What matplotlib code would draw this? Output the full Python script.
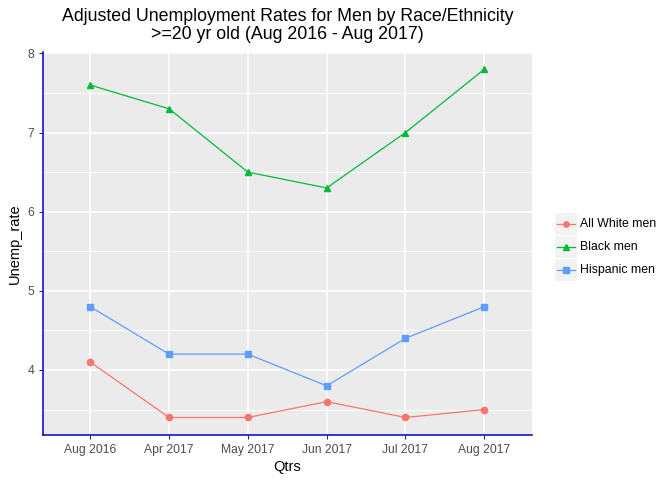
import numpy as np
import matplotlib
matplotlib.use('Agg')
import matplotlib.pyplot as plt
from matplotlib.lines import Line2D
from matplotlib.patches import Rectangle

plt.rcParams['font.family'] = ['Liberation Sans', 'DejaVu Sans']

qtrs = ['Aug 2016', 'Apr 2017', 'May 2017', 'Jun 2017', 'Jul 2017', 'Aug 2017']
white_men = [4.1, 3.4, 3.4, 3.6, 3.4, 3.5]
black_men = [7.6, 7.3, 6.5, 6.3, 7.0, 7.8]
hispanic_men = [4.8, 4.2, 4.2, 3.8, 4.4, 4.8]

series = [
    ('All White men', white_men, '#F8766D', 'o'),
    ('Black men', black_men, '#00BA38', '^'),
    ('Hispanic men', hispanic_men, '#619CFF', 's'),
]

fig = plt.figure(figsize=(6.72, 4.8), dpi=100)
ax = fig.add_axes([0.064, 0.094, 0.727, 0.798])
ax.set_facecolor('#EBEBEB')

x = np.arange(len(qtrs))
for name, vals, col, mk in series:
    ax.plot(x, vals, color=col, lw=0.9, marker=mk, ms=4.5, mec=col, mfc=col, zorder=3)

allv = white_men + black_men + hispanic_men
lo, hi = min(allv), max(allv)
pad = 0.05 * (hi - lo)
ax.set_ylim(lo - pad, hi + pad)
ax.set_xlim(-0.6, len(qtrs) - 1 + 0.6)

ax.set_xticks(x)
ax.set_xticklabels(qtrs)
ax.set_yticks([4, 5, 6, 7, 8])
ax.set_yticks([3.5, 4.5, 5.5, 6.5, 7.5], minor=True)
ax.grid(True, which='major', color='white', lw=1.1, zorder=0)
ax.grid(True, which='minor', axis='y', color='white', lw=0.55, zorder=0)
ax.set_axisbelow(True)

for s in ['top', 'right']:
    ax.spines[s].set_visible(False)
for s in ['left', 'bottom']:
    ax.spines[s].set_color('#0000CC')
    ax.spines[s].set_linewidth(1.1)

ax.tick_params(axis='both', which='major', colors='#333333', labelcolor='#4D4D4D',
               labelsize=8.7, length=3, width=0.8)
ax.tick_params(axis='y', which='minor', length=0)

ax.set_xlabel('Qtrs', fontsize=10.5, labelpad=3)
ax.set_ylabel('Unemp_rate', fontsize=10.5, labelpad=4)
ax.set_title('Adjusted Unemployment Rates for Men by Race/Ethnicity\n>=20 yr old (Aug 2016 - Aug 2017)',
             fontsize=12.8, linespacing=1.1, pad=9)

# legend in ggplot style
ys = [224, 247, 270]
for (name, vals, col, mk), yp in zip(series, ys):
    fy = 1 - yp / 480
    fig.patches.append(Rectangle((555 / 672, fy - 11 / 480), 22 / 672, 22 / 480,
                                 transform=fig.transFigure, facecolor='#F2F2F2',
                                 edgecolor='none'))
    fig.add_artist(Line2D([557 / 672, 575 / 672], [fy, fy], color=col, lw=0.9,
                          transform=fig.transFigure))
    fig.add_artist(Line2D([566 / 672], [fy], color=col, marker=mk, ms=3.8,
                          transform=fig.transFigure))
    fig.text(580 / 672, fy, name, fontsize=8.8, va='center', ha='left', color='black')

fig.savefig('out.png', dpi=100)
